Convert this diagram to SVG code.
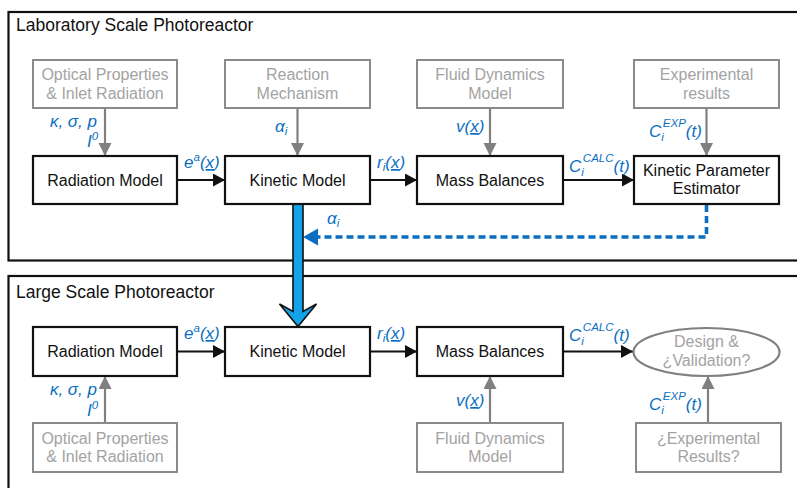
<svg xmlns="http://www.w3.org/2000/svg" width="797" height="488" viewBox="0 0 797 488">
  <defs>
    <style>
      .frame { fill: none; stroke: #111; stroke-width: 2.2; }
      .title { font-family: "Liberation Sans", Arial, sans-serif; font-size: 17.5px; fill: #111; }
      .box { fill: #fff; stroke: #111; stroke-width: 2.2; }
      .gbox { fill: #fff; stroke: #8a8a8a; stroke-width: 2; }
      .lbl { font-family: "Liberation Sans", Arial, sans-serif; font-size: 16px; fill: #111; text-anchor: middle; }
      .glbl { font-family: "Liberation Sans", Arial, sans-serif; font-size: 16px; fill: #a3a3a3; text-anchor: middle; }
      .var { font-family: "Liberation Sans", Arial, sans-serif; font-size: 17px; font-style: italic; fill: #0a6fc2; }
      .sm { font-size: 11.5px; }
      .flow { stroke: #111; stroke-width: 2; fill: none; }
      .gflow { stroke: #808080; stroke-width: 2.2; fill: none; }
    </style>
    <marker id="ah" markerUnits="userSpaceOnUse" markerWidth="13" markerHeight="13" refX="12" refY="6.5" orient="auto">
      <path d="M0,0 L12,6.5 L0,13 z" fill="#111"/>
    </marker>
    <marker id="gah" markerUnits="userSpaceOnUse" markerWidth="14" markerHeight="14" refX="13" refY="6.5" orient="auto">
      <path d="M0,0 L13,6.5 L0,13 z" fill="#808080"/>
    </marker>
  </defs>

  <!-- section frames -->
  <rect class="frame" x="8.5" y="12" width="800" height="248.5"/>
  <text class="title" x="16" y="31">Laboratory Scale Photoreactor</text>
  <rect class="frame" x="8.5" y="276" width="800" height="230"/>
  <text class="title" x="16" y="298">Large Scale Photoreactor</text>

  <!-- connectors -->
  <g id="connectors">
    <!-- laboratory row: inputs -->
    <line class="gflow" x1="105" y1="108" x2="105" y2="156" marker-end="url(#gah)"/>
    <line class="gflow" x1="297.5" y1="108" x2="297.5" y2="156" marker-end="url(#gah)"/>
    <line class="gflow" x1="490" y1="108" x2="490" y2="156" marker-end="url(#gah)"/>
    <line class="gflow" x1="706.5" y1="108" x2="706.5" y2="156" marker-end="url(#gah)"/>
    <!-- laboratory row: main chain -->
    <line class="flow" x1="177" y1="180" x2="225" y2="180" marker-end="url(#ah)"/>
    <line class="flow" x1="370" y1="180" x2="417" y2="180" marker-end="url(#ah)"/>
    <line class="flow" x1="563" y1="180" x2="634" y2="180" marker-end="url(#ah)"/>
    <!-- estimated parameters fed back to the kinetic model -->
    <path d="M706.5,205 V237 H318" fill="none" stroke="#0a6fc2" stroke-width="3.6" stroke-dasharray="7 4"/>
    <path d="M303,237 L318,228.5 L318,245.5 z" fill="#0a6fc2"/>
    <!-- transfer of the kinetic model to the large scale -->
    <path d="M293,204 V311.5 L279.5,304 L298,326.5 L316.5,304 L303,311.5 V204 z" fill="#12a3e8" stroke="#111" stroke-width="1.6" stroke-linejoin="miter"/>
    <!-- large scale row: main chain -->
    <line class="flow" x1="177" y1="351.5" x2="225" y2="351.5" marker-end="url(#ah)"/>
    <line class="flow" x1="370" y1="351.5" x2="417" y2="351.5" marker-end="url(#ah)"/>
    <line class="flow" x1="563" y1="351.5" x2="633" y2="351.5" marker-end="url(#ah)"/>
    <!-- large scale row: inputs -->
    <line class="gflow" x1="105" y1="423" x2="105" y2="376" marker-end="url(#gah)"/>
    <line class="gflow" x1="490" y1="423" x2="490" y2="376" marker-end="url(#gah)"/>
    <line class="gflow" x1="708" y1="423" x2="708" y2="376" marker-end="url(#gah)"/>
  </g>

  <!-- laboratory scale nodes -->
  <g id="lab-optical">
    <rect class="gbox" x="33" y="60" width="144" height="48"/>
    <text class="glbl" x="105" y="80">Optical Properties</text>
    <text class="glbl" x="105" y="98.5">&amp; Inlet Radiation</text>
  </g>
  <g id="lab-mechanism">
    <rect class="gbox" x="225" y="60" width="145" height="48"/>
    <text class="glbl" x="297.5" y="80">Reaction</text>
    <text class="glbl" x="297.5" y="98.5">Mechanism</text>
  </g>
  <g id="lab-fluid">
    <rect class="gbox" x="417" y="60" width="146" height="48"/>
    <text class="glbl" x="490" y="80">Fluid Dynamics</text>
    <text class="glbl" x="490" y="98.5">Model</text>
  </g>
  <g id="lab-experimental">
    <rect class="gbox" x="634" y="60" width="145" height="48"/>
    <text class="glbl" x="706.5" y="80">Experimental</text>
    <text class="glbl" x="706.5" y="98.5">results</text>
  </g>
  <g id="lab-radiation">
    <rect class="box" x="33" y="156" width="144" height="48"/>
    <text class="lbl" x="105" y="185.5">Radiation Model</text>
  </g>
  <g id="lab-kinetic">
    <rect class="box" x="225" y="156" width="145" height="48"/>
    <text class="lbl" x="297.5" y="185.5">Kinetic Model</text>
  </g>
  <g id="lab-mass">
    <rect class="box" x="417" y="156" width="146" height="48"/>
    <text class="lbl" x="490" y="185.5">Mass Balances</text>
  </g>
  <g id="lab-estimator">
    <rect class="box" x="634" y="156" width="145" height="48"/>
    <text class="lbl" x="706.5" y="175.5">Kinetic Parameter</text>
    <text class="lbl" x="706.5" y="194">Estimator</text>
  </g>

  <!-- laboratory scale variable labels -->
  <g id="lab-vars">
    <text class="var" x="97" y="126.5" text-anchor="end">κ, σ, p</text>
    <text class="var" x="87" y="147">I<tspan class="sm" dy="-7">0</tspan></text>
    <text class="var" x="275" y="132">α<tspan class="sm" dy="3">i</tspan></text>
    <text class="var" x="184" y="168">e<tspan class="sm" dy="-7">a</tspan><tspan dy="7">(</tspan><tspan text-decoration="underline">x</tspan>)</text>
    <text class="var" x="377" y="168">r<tspan class="sm" dy="3">i</tspan><tspan dy="-3">(</tspan><tspan text-decoration="underline">x</tspan>)</text>
    <text class="var" x="456" y="132">v(<tspan text-decoration="underline">x</tspan>)</text>
    <text class="var" x="569" y="171.5">C<tspan class="sm" dy="4">i</tspan><tspan class="sm" dx="-1" dy="-14">CALC</tspan><tspan dy="10">(t)</tspan></text>
    <text class="var" x="649" y="137">C<tspan class="sm" dy="4">i</tspan><tspan class="sm" dx="-1" dy="-14">EXP</tspan><tspan dy="10">(t)</tspan></text>
    <text class="var" x="327" y="224">α<tspan class="sm" dy="3">i</tspan></text>
  </g>

  <!-- large scale nodes -->
  <g id="large-radiation">
    <rect class="box" x="33" y="327" width="144" height="49"/>
    <text class="lbl" x="105" y="357">Radiation Model</text>
  </g>
  <g id="large-kinetic">
    <rect class="box" x="225" y="327" width="145" height="49"/>
    <text class="lbl" x="297.5" y="357">Kinetic Model</text>
  </g>
  <g id="large-mass">
    <rect class="box" x="417" y="327" width="146" height="49"/>
    <text class="lbl" x="490" y="357">Mass Balances</text>
  </g>
  <g id="large-design">
    <ellipse cx="706.5" cy="352" rx="73" ry="24" fill="#fff" stroke="#808080" stroke-width="2.2"/>
    <text class="glbl" x="706.5" y="347">Design &amp;</text>
    <text class="glbl" x="706.5" y="365.5">¿Validation?</text>
  </g>
  <g id="large-optical">
    <rect class="gbox" x="33" y="423" width="144" height="49"/>
    <text class="glbl" x="105" y="443.5">Optical Properties</text>
    <text class="glbl" x="105" y="462">&amp; Inlet Radiation</text>
  </g>
  <g id="large-fluid">
    <rect class="gbox" x="417" y="423" width="146" height="49"/>
    <text class="glbl" x="490" y="443.5">Fluid Dynamics</text>
    <text class="glbl" x="490" y="462">Model</text>
  </g>
  <g id="large-experimental">
    <rect class="gbox" x="636" y="423" width="145" height="49"/>
    <text class="glbl" x="708.5" y="443.5">¿Experimental</text>
    <text class="glbl" x="708.5" y="462">Results?</text>
  </g>

  <!-- large scale variable labels -->
  <g id="large-vars">
    <text class="var" x="97" y="394.5" text-anchor="end">κ, σ, p</text>
    <text class="var" x="87" y="415.5">I<tspan class="sm" dy="-7">0</tspan></text>
    <text class="var" x="184" y="339">e<tspan class="sm" dy="-7">a</tspan><tspan dy="7">(</tspan><tspan text-decoration="underline">x</tspan>)</text>
    <text class="var" x="377" y="339">r<tspan class="sm" dy="3">i</tspan><tspan dy="-3">(</tspan><tspan text-decoration="underline">x</tspan>)</text>
    <text class="var" x="456" y="406">v(<tspan text-decoration="underline">x</tspan>)</text>
    <text class="var" x="569" y="341">C<tspan class="sm" dy="4">i</tspan><tspan class="sm" dx="-1" dy="-14">CALC</tspan><tspan dy="10">(t)</tspan></text>
    <text class="var" x="649" y="410">C<tspan class="sm" dy="4">i</tspan><tspan class="sm" dx="-1" dy="-14">EXP</tspan><tspan dy="10">(t)</tspan></text>
  </g>
</svg>
